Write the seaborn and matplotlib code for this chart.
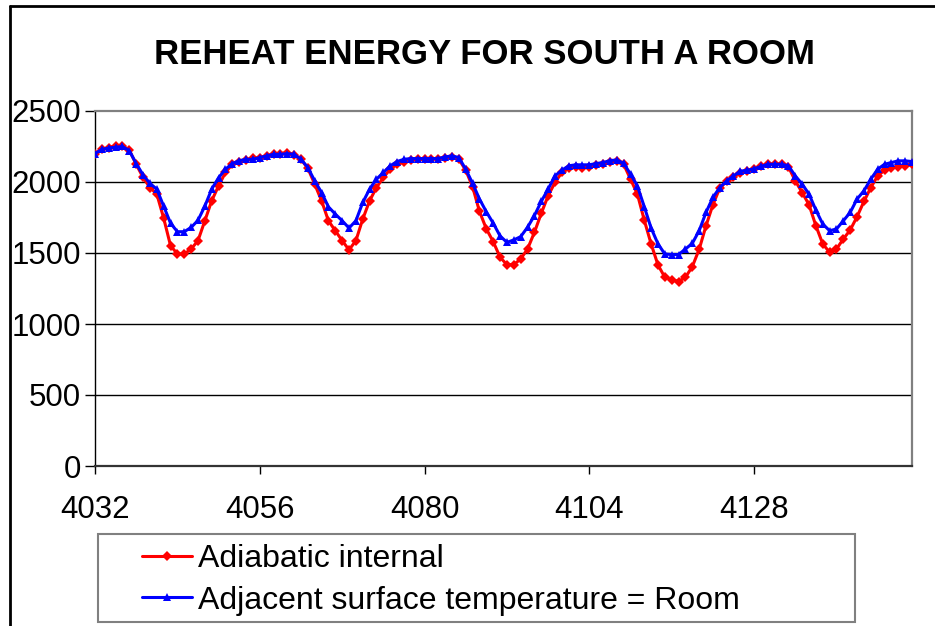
import numpy as np
import pandas as pd
import matplotlib
matplotlib.use("Agg")
import matplotlib.pyplot as plt
from matplotlib.lines import Line2D
from matplotlib.patches import Rectangle
import seaborn as sns

# Hour of year (x axis)
hours = list(range(4032, 4152))

adiabatic_internal = [
    2200, 2231, 2242, 2254, 2254, 2224, 2125, 2032, 1961, 1915, 1746, 1552,
    1493, 1493, 1528, 1587, 1727, 1868, 1973, 2067, 2125, 2144, 2153,
    2167, 2172, 2184, 2195, 2200, 2207, 2191, 2160, 2097, 1985, 1868, 1727,
    1657, 1587, 1522, 1587, 1739, 1868, 1961, 2032, 2090, 2125, 2144, 2153,
    2160, 2160,
    2165, 2165, 2172, 2177, 2160, 2083, 1966, 1793, 1670, 1580, 1470, 1418,
    1418, 1458, 1528, 1645, 1779, 1903, 1997, 2067, 2097, 2107, 2102, 2104,
    2121, 2130, 2144, 2151, 2125, 2020, 1915, 1732, 1564, 1416, 1329, 1313,
    1299, 1329, 1404, 1526, 1692, 1840, 1957, 2004, 2036, 2063, 2079, 2093,
    2110,
    2125, 2125, 2125, 2107, 2008, 1926, 1840, 1692, 1564, 1505, 1528, 1599,
    1662, 1756, 1863, 1961, 2043, 2083, 2102, 2107, 2114, 2125,
]

adjacent_room = [
    2200, 2230, 2240, 2245, 2250, 2220, 2130, 2050, 1990, 1950, 1830, 1710,
    1650, 1650, 1680, 1730, 1830, 1950, 2030, 2090, 2130, 2150, 2160,
    2160, 2172, 2184, 2195, 2195, 2200, 2195, 2160, 2102, 2008, 1926, 1825,
    1774, 1727, 1676, 1727, 1856, 1950, 2020, 2067, 2114, 2144, 2160, 2165,
    2165, 2165,
    2165, 2165, 2177, 2184, 2172, 2090, 1990, 1880, 1790, 1710, 1620, 1575,
    1592, 1615, 1681, 1763, 1863, 1950, 2043, 2083, 2114, 2121, 2121, 2121,
    2130, 2137, 2151, 2155, 2132, 2055, 1973, 1826, 1676, 1564, 1493, 1489,
    1489, 1528, 1568, 1657, 1786, 1891, 1961, 2008, 2043, 2076, 2083, 2093,
    2110,
    2125, 2125, 2125, 2114, 2043, 1985, 1915, 1802, 1704, 1657, 1669, 1727,
    1786, 1880, 1938, 2020, 2090, 2125, 2137, 2149, 2149, 2144,
]

series_names = ["Adiabatic internal", "Adjacent surface temperature = Room"]
x_ticks = [4032, 4056, 4080, 4104, 4128]
y_ticks = [0, 500, 1000, 1500, 2000, 2500]

df = pd.DataFrame({
    "hour": hours * 2,
    "energy": adiabatic_internal + adjacent_room,
    "series": [series_names[0]] * len(hours) + [series_names[1]] * len(hours),
})

sns.set_theme(style="white")
plt.rcParams["font.family"] = ["Liberation Sans", "DejaVu Sans"]
plt.rcParams["text.color"] = "black"

W, H = 935, 626
fig = plt.figure(figsize=(W / 100, H / 100), dpi=100)
ax = fig.add_axes([95 / W, 160 / H, 817 / W, 355 / H])

marker_map = {series_names[0]: "D", series_names[1]: "^"}
sns.lineplot(
    data=df, x="hour", y="energy", hue="series", style="series",
    palette={series_names[0]: "#ff0000", series_names[1]: "#0000ff"},
    markers=marker_map, dashes=False, linewidth=2.2, markersize=5.5,
    markeredgewidth=0, legend=False, ax=ax, zorder=3,
)

ax.set_xlim(4032, 4151)
ax.set_ylim(0, 2500)
ax.set_xticks(x_ticks)
ax.set_yticks(y_ticks)
ax.set_xlabel("")
ax.set_ylabel("")

# Horizontal gridlines
for v in y_ticks[1:-1]:
    ax.axhline(v, color="black", lw=1.0, zorder=1)

ax.tick_params(axis="x", direction="out", length=6, width=1, color="black",
               labelsize=22.5, pad=15, labelcolor="black", bottom=True)
ax.tick_params(axis="y", direction="out", length=7, width=1, color="black",
               labelsize=22.5, pad=3, labelcolor="black", left=True)

for side in ("top", "right"):
    ax.spines[side].set_color("#808080")
    ax.spines[side].set_linewidth(1.6)
ax.spines["left"].set_color("black")
ax.spines["left"].set_linewidth(1.0)
ax.spines["bottom"].set_color("#333333")
ax.spines["bottom"].set_linewidth(1.6)

fig.text(485 / W, 1 - 54 / H, "REHEAT ENERGY FOR SOUTH A ROOM",
         ha="center", va="center", fontsize=25, fontweight="bold", color="black")

# Legend box below the plot area
fig.add_artist(Rectangle((98 / W, 1 - 622 / H), (855 - 98) / W, (622 - 534) / H,
                         transform=fig.transFigure, facecolor="white",
                         edgecolor="#808080", lw=1.5, zorder=2))
handles = [
    Line2D([], [], color="#ff0000", lw=2.2, marker="D", markersize=5.5, markeredgewidth=0),
    Line2D([], [], color="#0000ff", lw=2.2, marker="^", markersize=5.5, markeredgewidth=0),
]
leg = fig.legend(
    handles, series_names, loc="upper left",
    bbox_to_anchor=(142 / W, 1 - 544 / H),
    fontsize=23, frameon=False, borderpad=0, labelspacing=0.36,
    handlelength=1.55, handletextpad=0.2, borderaxespad=0,
)
leg.set_zorder(3)
for t in leg.get_texts():
    t.set_color("black")

# Outer chart frame (left and top edges)
fig.add_artist(Line2D([10 / W, 10 / W], [0, 1 - 6 / H], color="black", lw=2,
                      transform=fig.transFigure))
fig.add_artist(Line2D([10 / W, 1], [1 - 6 / H, 1 - 6 / H], color="black", lw=2,
                      transform=fig.transFigure))

fig.savefig("out.png", dpi=100, facecolor="white")
